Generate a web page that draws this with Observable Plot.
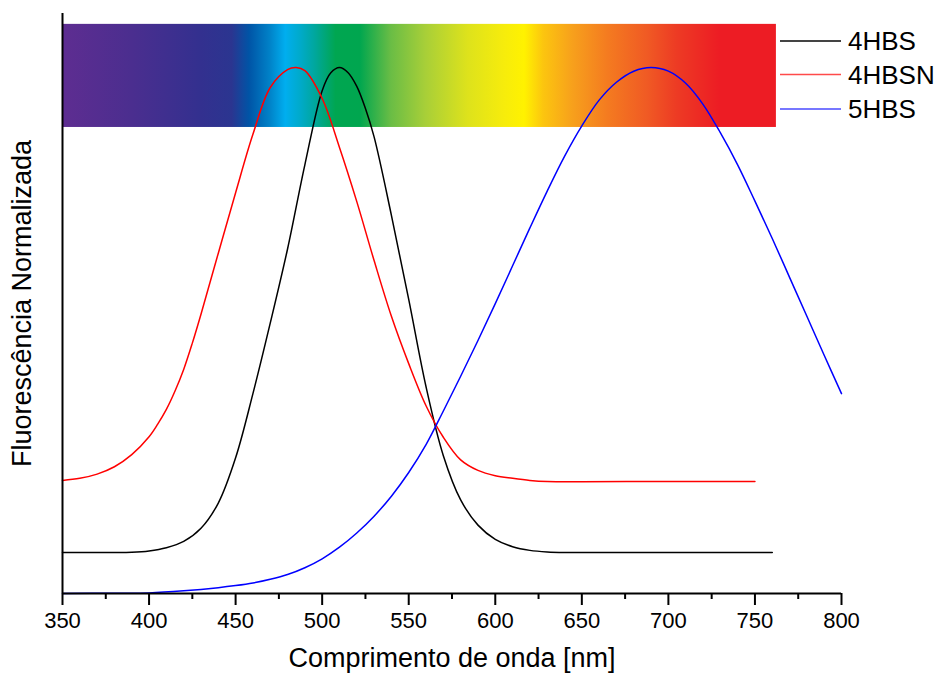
<!DOCTYPE html>
<html>
<head>
<meta charset="utf-8">
<script src="https://cdn.jsdelivr.net/npm/d3@7"></script>
<script src="https://cdn.jsdelivr.net/npm/@observablehq/plot@0.6"></script>
<style>
  html, body { margin: 0; padding: 0; background: #fff; }
  #chart { width: 941px; height: 678px; }
</style>
</head>
<body>
<div id="chart"></div>
<script>
// ---- data ----
const seriesNames = ["4HBS", "4HBSN", "5HBS"];
const seriesColors = ["#000000", "#ff0000", "#0000ff"];

const hbs4 = [
  [350,0.078],[360,0.078],[370,0.078],[380,0.078],[390,0.0785],[400,0.081],[410,0.087],[420,0.099],
  [430,0.124],[440,0.172],[450,0.258],[460,0.380],[470,0.514],[480,0.655],[490,0.815],[500,0.956],
  [505,0.99],[510,1.0],[515,0.99],[520,0.964],[525,0.922],[530,0.868],[540,0.719],[550,0.559],
  [560,0.393],[570,0.262],[580,0.178],[590,0.13],[600,0.103],[610,0.089],[620,0.082],[630,0.079],
  [640,0.078],[700,0.078],[760,0.078]
];
const hbsn4 = [
  [350,0.215],[360,0.219],[370,0.227],[380,0.241],[390,0.264],[400,0.298],[405,0.322],[410,0.350],
  [415,0.385],[420,0.426],[425,0.476],[430,0.531],[440,0.647],[450,0.762],[460,0.873],[470,0.962],
  [480,0.996],[485,1.0],[490,0.994],[500,0.941],[510,0.848],[520,0.745],[530,0.633],[540,0.527],
  [550,0.437],[560,0.357],[570,0.297],[580,0.254],[590,0.234],[600,0.224],[610,0.219],[620,0.215],
  [630,0.213],[700,0.213],[750,0.213]
];
const hbs5 = [
  [350,0.0],[380,0.0005],[400,0.001],[420,0.005],[440,0.011],[450,0.015],[460,0.020],[470,0.027],
  [480,0.036],[490,0.049],[500,0.066],[510,0.088],[520,0.115],[530,0.147],[540,0.185],[550,0.230],
  [560,0.283],[570,0.347],[580,0.413],[590,0.481],[600,0.551],[610,0.623],[620,0.695],[630,0.765],
  [640,0.831],[650,0.889],[660,0.938],[670,0.972],[680,0.993],[690,1.0],[700,0.993],[710,0.97],
  [720,0.93],[730,0.876],[740,0.815],[750,0.746],[760,0.675],[770,0.601],[780,0.527],[790,0.453],
  [800,0.38]
];

const xTicks = [350,400,450,500,550,600,650,700,750,800];
const xMinorTicks = [375,425,475,525,575,625,675,725,775];

// visible-spectrum band (wavelength extent and normalized-height extent)
const spectrumBand = [{x1: 350, x2: 762.4, y1: 0.886, y2: 1.082}];
const spectrumStops = [
  [350,"#5e2d91"],[390,"#4b2e8f"],[430,"#33308f"],[448,"#2b3590"],[458,"#0054a6"],[470,"#0082c8"],
  [479,"#00aeef"],[488,"#00aac8"],[496,"#00a79d"],[508,"#00a651"],[522,"#00a64f"],[540,"#6abd45"],
  [560,"#a8cf38"],[584,"#dde21c"],[605,"#f6ec0c"],[617,"#fff200"],[628,"#fcc50f"],[645,"#f7a01c"],
  [665,"#f47b20"],[688,"#f05a24"],[705,"#ed3b24"],[730,"#ed1c24"],[762.4,"#ed1c24"]
];

const xLabel = "Comprimento de onda [nm]";
const yLabel = "Fluorescência Normalizada";

const rows = [];
[hbs4, hbsn4, hbs5].forEach((s, i) => s.forEach(([x, y]) => rows.push({series: seriesNames[i], x, y})));

const font = "'Liberation Sans', Arial, sans-serif";

const plot = Plot.plot({
  width: 941,
  height: 678,
  marginLeft: 62,
  marginRight: 100,
  marginTop: 13,
  marginBottom: 85,
  style: {fontFamily: font, color: "#000", background: "#fff", overflow: "visible"},
  x: {domain: [350, 800]},
  y: {domain: [0, 580 / 526], axis: null},
  color: {domain: seriesNames, range: seriesColors},
  marks: [
    Plot.rect(spectrumBand, {x1: "x1", x2: "x2", y1: "y1", y2: "y2", fill: "url(#spectrumGrad)"}),
    Plot.line(rows, {x: "x", y: "y", z: "series", stroke: "series", strokeWidth: 1.5, curve: "catmull-rom"}),
    Plot.ruleX([350], {y1: 0, y2: 580 / 526, stroke: "#000", strokeWidth: 2}),
    Plot.ruleY([0], {stroke: "#000", strokeWidth: 2}),
    Plot.axisX(xTicks, {tickSize: 12, tickPadding: 7, fontSize: 22, strokeWidth: 2, stroke: "#000", fill: "#000", label: null}),
    Plot.axisX(xMinorTicks, {tickSize: 6, strokeWidth: 2, stroke: "#000", text: null, label: null}),
    Plot.text([xLabel], {text: d => d, frameAnchor: "bottom", dy: 73, fontSize: 27, fill: "#000"}),
    Plot.text([yLabel], {text: d => d, frameAnchor: "left", textAnchor: "middle", rotate: -90, dx: -40, fontSize: 27, fill: "#000"})
  ]
});

document.getElementById("chart").appendChild(plot);

const svg = d3.select(plot);
const tickSet = new Set(xTicks.map(String));
svg.selectAll("text").filter(function() { return tickSet.has(this.textContent.trim()); })
  .attr("font-size", 22).style("font-size", "22px");

// gradient definition for the spectrum band
const lo = spectrumStops[0][0], hi = spectrumStops[spectrumStops.length - 1][0];
const grad = svg.insert("defs", ":first-child").append("linearGradient")
  .attr("id", "spectrumGrad").attr("x1", "0").attr("x2", "1").attr("y1", "0").attr("y2", "0");
spectrumStops.forEach(([nm, c]) => grad.append("stop").attr("offset", (nm - lo) / (hi - lo)).attr("stop-color", c));

// legend
const legendStroke = ["#444", "#ff4a4a", "#4a4aff"];
const legend = svg.append("g").attr("font-family", font).attr("font-size", 26).attr("text-anchor", "start");
const legendY = [41, 74.5, 109];
seriesNames.forEach((name, i) => {
  legend.append("line").attr("x1", 780).attr("x2", 841).attr("y1", legendY[i]).attr("y2", legendY[i])
    .attr("stroke", legendStroke[i]).attr("stroke-width", i === 0 ? 2 : 1.5);
  legend.append("text").attr("x", 848).attr("y", legendY[i]).attr("dy", "0.35em").attr("fill", "#000").text(name);
});
</script>
</body>
</html>
